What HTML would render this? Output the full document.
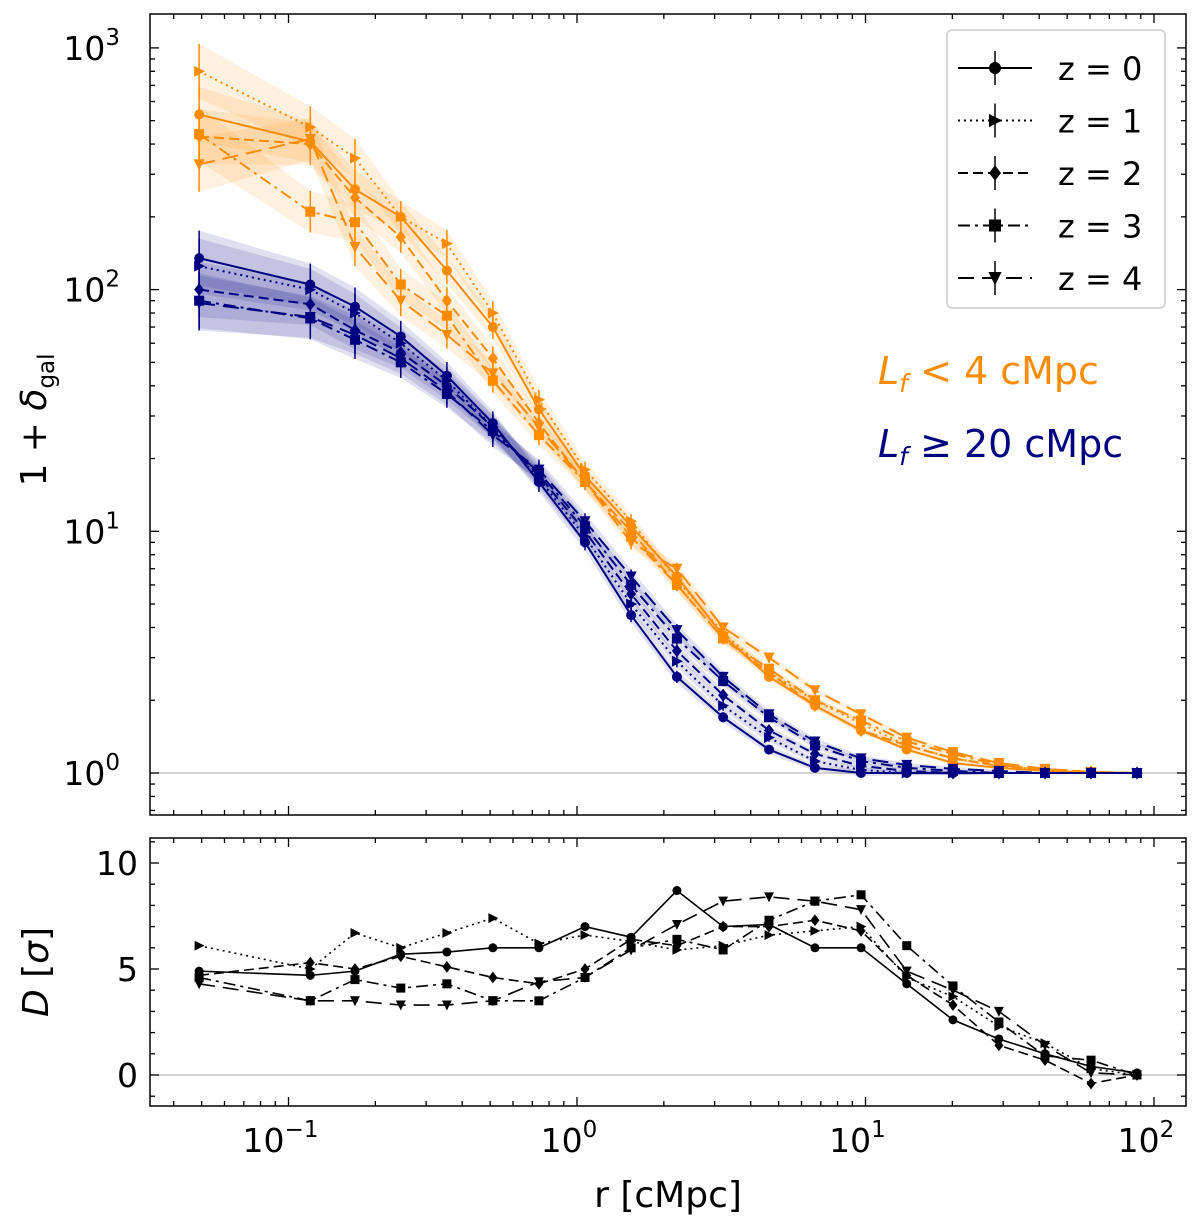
<!DOCTYPE html>
<html><head><meta charset="utf-8"><style>
html,body{margin:0;padding:0;background:#fff;}
svg{display:block;font-family:"DejaVu Sans","Liberation Sans",sans-serif;}
</style></head><body>
<svg id="chart" width="1200" height="1221" viewBox="0 0 1200 1221" xmlns="http://www.w3.org/2000/svg"></svg>
<script>
const radii=[0.049,0.119,0.170,0.245,0.354,0.511,0.738,1.066,1.54,2.22,3.21,4.63,6.68,9.65,13.9,20.1,29.0,41.9,60.5,87.3];
const redshifts=[0,1,2,3,4];
const orangeZ0=[530,410,260,200,120,70,32,17,10.5,6.5,3.7,2.5,1.9,1.5,1.25,1.1,1.05,1.02,1.0,1.0];
const orangeZ1=[800,470,350,200,155,80,35,18,11,6.3,3.8,2.6,2.0,1.6,1.3,1.15,1.07,1.03,1.01,1.0];
const orangeZ2=[430,400,240,165,90,52,28,16,10,6,3.6,2.6,1.9,1.5,1.3,1.15,1.07,1.03,1.01,1.0];
const orangeZ3=[440,210,190,105,78,42,25,16,9.5,6,3.6,2.7,2.0,1.65,1.35,1.2,1.08,1.03,1.0,1.0];
const orangeZ4=[330,420,150,90,65,45,27,16,9,7,4,3,2.2,1.75,1.4,1.22,1.1,1.04,1.01,1.0];
const blueZ0=[135,105,85,64,44,28,16,9,4.5,2.5,1.7,1.25,1.05,1.0,1.0,1.0,1.0,1.0,1.0,1.0];
const blueZ1=[125,100,80,60,42,27,16.5,9.5,5,2.9,1.9,1.4,1.12,1.03,1.0,1.0,1.0,1.0,1.0,1.0];
const blueZ2=[100,87,68,55,40,27,17,10,5.5,3.2,2.1,1.5,1.2,1.07,1.02,1.0,1.0,1.0,1.0,1.0];
const blueZ3=[90,76,62,50,37,26,17.5,10.5,6,3.6,2.4,1.7,1.3,1.12,1.05,1.02,1.0,1.0,1.0,1.0];
const blueZ4=[88,77,65,52,38,25,18,11,6.5,3.9,2.5,1.75,1.35,1.15,1.08,1.04,1.02,1.0,1.0,1.0];
const errFrac=[0.3,0.22,0.2,0.16,0.14,0.12,0.1,0.08,0.07,0.06,0.05,0.04,0.03,0.03,0.02,0.02,0.01,0.01,0.01,0.01];
const dZ0=[4.9,4.7,4.9,5.7,5.8,6.0,6.0,7.0,6.5,8.7,7.0,7.1,6.0,6.0,4.3,2.6,1.7,1.0,0.4,0.1];
const dZ1=[6.1,5.0,6.7,6.0,6.7,7.4,6.2,6.6,6.3,5.9,6.1,6.6,6.8,7.0,4.6,3.7,2.3,1.5,0.3,0.0];
const dZ2=[4.7,5.3,5.0,5.6,5.1,4.6,4.3,5.0,6.4,6.1,7.0,7.0,7.3,6.8,4.7,3.3,1.4,0.7,-0.4,0.0];
const dZ3=[4.6,3.5,4.5,4.1,4.3,3.5,3.5,4.6,6.0,6.4,5.9,7.3,8.2,8.5,6.1,4.2,2.5,0.9,0.7,0.0];
const dZ4=[4.3,3.5,3.5,3.3,3.3,3.5,4.4,4.6,5.9,7.1,8.2,8.4,8.2,7.8,4.9,4.0,3.0,1.4,0.1,0.0];
const xTicks=["10","10","10","10"], xTickExp=["−1","0","1","2"];
const yTickExp=["0","1","2","3"];
const dTicks=[0,5,10];

const NS="http://www.w3.org/2000/svg";
const svg=document.getElementById('chart');
function el(tag,attrs,parent){const e=document.createElementNS(NS,tag);for(const k in attrs)e.setAttribute(k,attrs[k]);(parent||svg).appendChild(e);return e;}
const X0=150,X1=1186,TY0=14,TY1=815,BY0=838,BY1=1106;
const xs=r=>577+288.5*Math.log10(r);
const ys=v=>773-241.7*Math.log10(v);
const yd=v=>1075-21.2*v;
const styles=[{dash:"none",m:"circle"},{dash:"2,4",m:"right"},{dash:"10,5",m:"diamond"},{dash:"12,5,3,5",m:"square"},{dash:"16,8",m:"down"}];
function marker(g,x,y,type,color,s){
  s=s||6;let e;
  if(type==="circle")e=el('circle',{cx:x,cy:y,r:s},g);
  else if(type==="square")e=el('rect',{x:x-s,y:y-s,width:2*s,height:2*s},g);
  else if(type==="diamond")e=el('polygon',{points:`${x},${y-s*1.3} ${x+s},${y} ${x},${y+s*1.3} ${x-s},${y}`},g);
  else if(type==="right")e=el('polygon',{points:`${x-s},${y-s*1.1} ${x+s*1.2},${y} ${x-s},${y+s*1.1}`},g);
  else e=el('polygon',{points:`${x-s*1.1},${y-s} ${x+s*1.1},${y-s} ${x},${y+s*1.2}`},g);
  e.setAttribute('fill',color);
  
  
}
const topG=el('g',{});


el('line',{x1:X0,x2:X1,y1:ys(1),y2:ys(1),stroke:'#bbb','stroke-width':1.2},topG);
const groups=[{c:'#ff8c00',d:[orangeZ0,orangeZ1,orangeZ2,orangeZ3,orangeZ4],n:'orange'},{c:'#000080',d:[blueZ0,blueZ1,blueZ2,blueZ3,blueZ4],n:'navy'}];
groups.forEach(G=>{G.d.forEach((arr,i)=>{
  let up=radii.map((r,k)=>xs(r)+','+ys(arr[k]*(1+errFrac[k])));
  let dn=radii.map((r,k)=>xs(r)+','+ys(arr[k]/(1+errFrac[k]))).reverse();
  const b=el('polygon',{points:up.concat(dn).join(' '),fill:G.c,'fill-opacity':0.12},topG);
  
  
});});
groups.forEach(G=>{G.d.forEach((arr,i)=>{
  const g=el('g',{},topG);
  
  
  el('polyline',{points:radii.map((r,k)=>xs(r)+','+ys(arr[k])).join(' '),fill:'none',stroke:G.c,'stroke-width':2,'stroke-dasharray':styles[i].dash},g);
  radii.forEach((r,k)=>{
    if(k<12)el('line',{x1:xs(r),x2:xs(r),y1:ys(arr[k]*(1+errFrac[k])),y2:ys(arr[k]/(1+errFrac[k])),stroke:G.c,'stroke-width':1.5},g);
    marker(g,xs(r),ys(arr[k]),styles[i].m,G.c,5);
  });
});});
el('rect',{x:X0,y:TY0,width:X1-X0,height:TY1-TY0,fill:'none',stroke:'#000','stroke-width':1.5});
const botG=el('g',{});


el('line',{x1:X0,x2:X1,y1:yd(0),y2:yd(0),stroke:'#bbb','stroke-width':1.2},botG);
[dZ0,dZ1,dZ2,dZ3,dZ4].forEach((arr,i)=>{
  const g=el('g',{},botG);
  
  
  el('polyline',{points:radii.map((r,k)=>xs(r)+','+yd(arr[k])).join(' '),fill:'none',stroke:'#000','stroke-width':1.6,'stroke-dasharray':styles[i].dash},g);
  radii.forEach((r,k)=>marker(g,xs(r),yd(arr[k]),styles[i].m,'#000',4.5));
});
el('rect',{x:X0,y:BY0,width:X1-X0,height:BY1-BY0,fill:'none',stroke:'#000','stroke-width':1.5});
function tk(x1,y1,x2,y2){el('line',{x1,y1,x2,y2,stroke:'#000','stroke-width':1.3});}
for(let e=-2;e<=2;e++){for(let m=1;m<10;m++){const x=xs(m*Math.pow(10,e));if(x<X0||x>X1)continue;const L=m===1?9:5;
  tk(x,TY1,x,TY1-L);tk(x,TY0,x,TY0+L);tk(x,BY1,x,BY1-L);tk(x,BY0,x,BY0+L);}}
for(let e=-1;e<=3;e++){for(let m=1;m<10;m++){const y=ys(m*Math.pow(10,e));if(y<TY0||y>TY1)continue;const L=m===1?9:5;
  tk(X0,y,X0+L,y);tk(X1,y,X1-L,y);}}
dTicks.forEach(v=>{tk(X0,yd(v),X0+9,yd(v));tk(X1,yd(v),X1-9,yd(v));});
for(let v=-1;v<=11;v++){if(v%5){const y=yd(v);if(y>BY0&&y<BY1){tk(X0,y,X0+5,y);tk(X1,y,X1-5,y);}}}
xTicks.forEach((b,i)=>{const x=xs(Math.pow(10,i-1));
  const t=el('text',{x:x-8,y:1152,'font-size':33,'text-anchor':'middle'});t.textContent=b;
  const s=el('tspan',{dy:-15,'font-size':23},t);s.textContent=xTickExp[i];
  });
yTickExp.forEach((ex,i)=>{const y=ys(Math.pow(10,i));
  const t=el('text',{x:120,y:y+12,'font-size':33,'text-anchor':'end'});t.textContent='10';
  const s=el('tspan',{dy:-15,'font-size':23},t);s.textContent=ex;
  });
dTicks.forEach(v=>{const t=el('text',{x:138,y:yd(v)+12,'font-size':33,'text-anchor':'end'});t.textContent=v;
  });
let t=el('text',{x:668,y:1207,'font-size':36,'text-anchor':'middle'});t.textContent='r [cMpc]';

t=el('text',{transform:'translate(46,420) rotate(-90)','font-size':36,'text-anchor':'middle'});
t.innerHTML='1 + <tspan font-style="italic">δ</tspan><tspan font-size="23" dy="8">gal</tspan>';

t=el('text',{transform:'translate(48,972) rotate(-90)','font-size':36,'text-anchor':'middle'});
t.innerHTML='<tspan font-style="italic">D</tspan> [<tspan font-style="italic">σ</tspan>]';

t=el('text',{x:878,y:384,'font-size':38,fill:'#ff8c00'});
t.innerHTML='<tspan font-style="italic">L</tspan><tspan font-style="italic" font-size="25" dy="8">f</tspan><tspan dy="-8"> &lt; 4 cMpc</tspan>';

t=el('text',{x:878,y:457,'font-size':38,fill:'#000080'});
t.innerHTML='<tspan font-style="italic">L</tspan><tspan font-style="italic" font-size="25" dy="8">f</tspan><tspan dy="-8"> ≥ 20 cMpc</tspan>';

const lg=el('g',{});


el('rect',{x:947,y:30,width:218,height:278,rx:5,fill:'#fff',stroke:'#ccc','stroke-width':1.5},lg);
redshifts.forEach((z,i)=>{const y=68+i*52.5;
  const g=el('g',{},lg);
  
  
  el('line',{x1:958,x2:1032,y1:y,y2:y,stroke:'#000','stroke-width':2,'stroke-dasharray':styles[i].dash},g);
  el('line',{x1:995,x2:995,y1:y-17,y2:y+17,stroke:'#000','stroke-width':1.5},g);
  marker(g,995,y,styles[i].m,'#000',6);
  const tt=el('text',{x:1058,y:y+12,'font-size':32},g);tt.textContent='z = '+z;
});
</script>
</body></html>
